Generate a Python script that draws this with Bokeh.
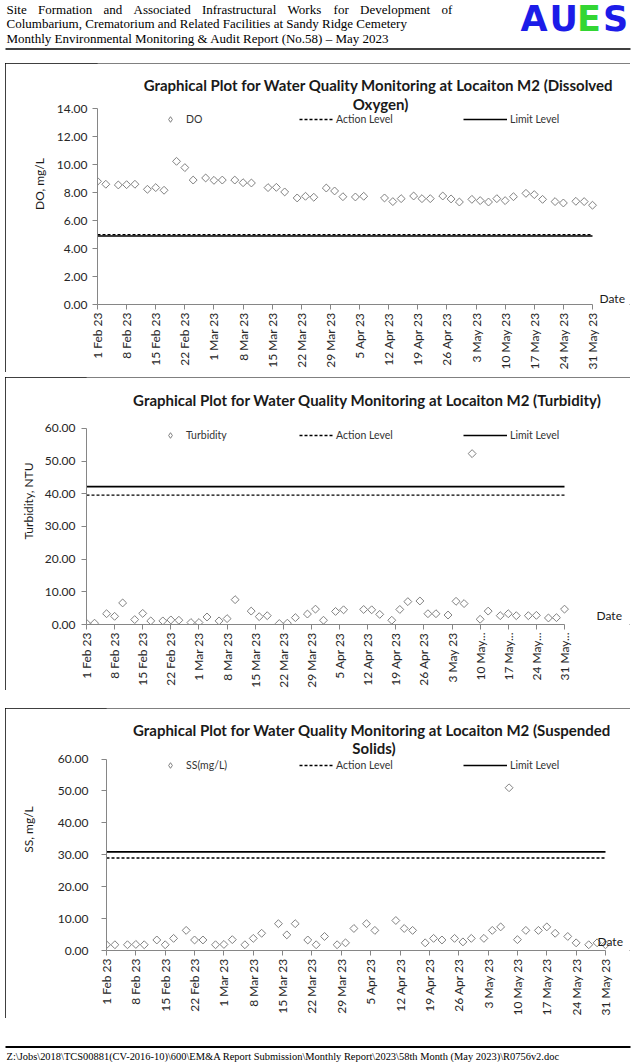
import math
import pandas as pd
from bokeh.plotting import figure
from bokeh.models import (Range1d, FixedTicker, Label, Legend, LegendItem, PrintfTickFormatter)
from bokeh.embed import file_html
from bokeh.resources import INLINE
from bokeh.core.properties import value

# ---------------- data ----------------
sample_dates = [
    "2023-02-01", "2023-02-03", "2023-02-06", "2023-02-08", "2023-02-10", "2023-02-13",
    "2023-02-15", "2023-02-17", "2023-02-20", "2023-02-22", "2023-02-24", "2023-02-27",
    "2023-03-01", "2023-03-03", "2023-03-06", "2023-03-08", "2023-03-10", "2023-03-14",
    "2023-03-16", "2023-03-18", "2023-03-21", "2023-03-23", "2023-03-25", "2023-03-28",
    "2023-03-30",
    "2023-04-01", "2023-04-04", "2023-04-06", "2023-04-11", "2023-04-13", "2023-04-15",
    "2023-04-18", "2023-04-20", "2023-04-22", "2023-04-25", "2023-04-27", "2023-04-29",
    "2023-05-02", "2023-05-04", "2023-05-06", "2023-05-08", "2023-05-10", "2023-05-12",
    "2023-05-15", "2023-05-17", "2023-05-19", "2023-05-22", "2023-05-24", "2023-05-27",
    "2023-05-29", "2023-05-31",
]

do_values = [
    8.81, 8.60, 8.55, 8.57, 8.60, 8.24, 8.36, 8.17, 10.24, 9.79, 8.90, 9.05,
    8.88, 8.90, 8.90, 8.71, 8.69, 8.36, 8.38, 8.05, 7.62, 7.74, 7.67, 8.33, 8.12,
    7.71, 7.69, 7.74, 7.62, 7.36, 7.57, 7.76, 7.57, 7.57, 7.76, 7.55, 7.33,
    7.52, 7.43, 7.33, 7.57, 7.43, 7.71, 7.95, 7.86, 7.52, 7.36, 7.26, 7.38, 7.36, 7.10,
]
turbidity_values = [
    0.4, 0.4, 3.3, 2.5, 6.6, 1.5, 3.4, 1.1, 1.1, 1.4, 1.3, 0.6,
    0.6, 2.3, 1.1, 1.8, 7.6, 4.1, 2.4, 2.7, 0.3, 0.4, 2.1, 3.2, 4.7,
    1.3, 4.0, 4.5, 4.6, 4.5, 3.1, 1.3, 4.6, 7.0, 7.2, 3.3, 3.3,
    2.9, 7.1, 6.4, 52.3, 1.6, 4.1, 2.7, 3.3, 2.7, 2.7, 2.8, 2.0, 2.1, 4.7,
]
ss_values = [
    1.8, 1.8, 1.8, 1.9, 1.8, 3.3, 1.8, 3.8, 6.3, 3.3, 3.3, 1.8,
    1.9, 3.4, 1.8, 3.8, 5.4, 8.4, 4.9, 8.4, 3.3, 1.8, 4.4, 1.8, 2.4,
    6.9, 8.4, 6.3, 9.4, 6.9, 6.3, 2.4, 3.8, 3.3, 3.8, 2.7, 3.8,
    3.8, 6.3, 7.4, 51.0, 3.4, 6.3, 6.3, 7.4, 5.4, 4.4, 2.4, 1.8, 2.4, 1.8,
]

do_action, do_limit = 5.0, 4.9
turb_action, turb_limit = 39.6, 42.2
ss_action, ss_limit = 29.0, 30.9

tick_dates = [
    "2023-02-01", "2023-02-08", "2023-02-15", "2023-02-22", "2023-03-01", "2023-03-08",
    "2023-03-15", "2023-03-22", "2023-03-29", "2023-04-05", "2023-04-12", "2023-04-19",
    "2023-04-26", "2023-05-03", "2023-05-10", "2023-05-17", "2023-05-24", "2023-05-31",
]
tick_labels = [
    "1 Feb 23", "8 Feb 23", "15 Feb 23", "22 Feb 23", "1 Mar 23", "8 Mar 23",
    "15 Mar 23", "22 Mar 23", "29 Mar 23", "5 Apr 23", "12 Apr 23", "19 Apr 23",
    "26 Apr 23", "3 May 23", "10 May 23", "17 May 23", "24 May 23", "31 May 23",
]
tick_labels_turbidity = [
    "1 Feb 23", "8 Feb 23", "15 Feb 23", "22 Feb 23", "1 Mar 23", "8 Mar 23",
    "15 Mar 23", "22 Mar 23", "29 Mar 23", "5 Apr 23", "12 Apr 23", "19 Apr 23",
    "26 Apr 23", "3 May 23", "10 May...", "17 May...", "24 May...", "31 May...",
]

header_line1 = ["Site", "Formation", "and", "Associated", "Infrastructural", "Works",
                "for", "Development", "of"]
header_line2 = "Columbarium, Crematorium and Related Facilities at Sandy Ridge Cemetery"
header_line3 = "Monthly Environmental Monitoring & Audit Report (No.58) \u2013 May 2023"
logo_letters = ["A", "U", "E", "S"]
footer_text = ("Z:\\Jobs\\2018\\TCS00881(CV-2016-10)\\600\\EM&A Report Submission\\"
               "Monthly Report\\2023\\58th Month (May 2023)\\R0756v2.doc")

# ---------------- helpers ----------------
CW = 625          # chart box width
PW = 632          # header / footer width
FONT = "Lato"
SERIF = "Liberation Serif"
start = pd.Timestamp("2023-02-01")
days = [(pd.Timestamp(d) - start).days for d in sample_dates]
tick_days = [(pd.Timestamp(d) - start).days for d in tick_dates]
XMAX = tick_days[-1]


def chart(h, fl, fr, ft, fb, ymax, ystep, vals, name, action, limit, ylab, tlabels,
          title_lines, ylab_sizes, date_xy, legend_row, margin_top):
    sx = (fr - fl) / XMAX          # px per day
    sy = (fb - ft) / ymax          # px per unit
    x_end = (CW - fl) / sx
    y_end = fb / sy
    p = figure(width=CW, height=h, output_backend="svg", toolbar_location=None,
               x_range=Range1d(0, x_end), y_range=Range1d(0, y_end),
               min_border_left=fl, min_border_right=0,
               min_border_top=0, min_border_bottom=h - fb)
    p.outline_line_color = None
    p.grid.visible = False
    p.background_fill_color = "white"
    p.border_fill_color = "white"
    p.styles = {"outline": "1px solid #000000", "outline-offset": "-1px",
                "margin-left": "5px", "margin-top": f"{margin_top}px"}

    def dx(px):
        return (px - fl) / sx

    def dy(py):
        return (fb - py) / sy

    n = len(days)
    p.scatter(days, vals, marker="square", angle=math.pi / 4, size=5.6,
              line_color="#808080", fill_color="white", line_width=1)
    r_act = p.line(days, [action] * n, line_color="black", line_dash="3 2", line_width=1.4)
    r_lim = p.line(days, [limit] * n, line_color="black", line_width=1.7)
    # legend key only (a single NaN point, nothing is drawn in the plot)
    r_key = p.scatter([float("nan")], [float("nan")], marker="diamond", line_color="#808080",
                      fill_color="white", line_width=1)

    xa = p.xaxis[0]
    ya = p.yaxis[0]
    xa.bounds = (0, XMAX)
    ya.bounds = (0, ymax)
    xa.ticker = FixedTicker(ticks=tick_days)
    xa.major_label_overrides = {d: l for d, l in zip(tick_days, tlabels)}
    xa.major_label_orientation = math.pi / 2
    xa.major_label_standoff = 3
    ya.ticker = FixedTicker(ticks=[ystep * i for i in range(int(round(ymax / ystep)) + 1)])
    ya.formatter = PrintfTickFormatter(format="%.2f")
    ya.major_label_standoff = ylab_sizes[0]
    ya.axis_label = ylab
    ya.axis_label_standoff = ylab_sizes[1]
    ya.axis_label_text_font = FONT
    ya.axis_label_text_font_size = "12px"
    ya.axis_label_text_font_style = "normal"
    ya.axis_label_text_color = "#1a1a1a"
    for ax in (xa, ya):
        ax.axis_line_color = "#868686"
        ax.major_tick_line_color = "#868686"
        ax.minor_tick_line_color = None
        ax.major_tick_out = 5
        ax.major_tick_in = 0
        ax.major_label_text_font = FONT
        ax.major_label_text_font_size = "12px"
        ax.major_label_text_color = "#262626"

    for (cx, cy, txt) in title_lines:
        p.add_layout(Label(x=dx(cx), y=dy(cy), text=txt, text_align="center",
                           text_baseline="middle", text_font=FONT,
                           text_font_size="15px", text_font_style="bold",
                           text_color="#1a1a1a"))
    p.add_layout(Label(x=dx(date_xy[0]), y=dy(date_xy[1]), text="Date", text_align="left",
                       text_baseline="middle", text_font=FONT,
                       text_font_size="12px", text_color="#1a1a1a"))

    # legends: (vx, vy) measured from the frame's bottom-left corner (box-local px)
    specs = [
        (r_key, name, 170 - 5 - 7 - fl, 14, 9),
        (r_act, "Action Level", 299 - 5 - fl, 34, 3),
        (r_lim, "Limit Level", 463 - 5 - fl, 44, 3),
    ]
    for rend, lab, vx, gw, so in specs:
        lg = Legend(items=[LegendItem(label=lab, renderers=[rend])],
                    location=(vx, fb - legend_row - 11),
                    orientation="horizontal", glyph_width=gw, glyph_height=14,
                    label_height=14, label_width=10, padding=0, margin=0, spacing=0,
                    border_line_color=None, background_fill_alpha=0,
                    label_text_font=FONT, label_text_font_size="10.5px",
                    label_standoff=so, label_text_color="#333333")
        p.add_layout(lg, "center")
    return p


# ---------------- header ----------------
hdr = figure(width=PW, height=63, output_backend="svg", toolbar_location=None,
             x_range=Range1d(0, PW), y_range=Range1d(63, 0), min_border=0,
             x_axis_location=None, y_axis_location=None)
hdr.grid.visible = False
hdr.outline_line_color = None
word_x = [6, 37.5, 103, 133.1, 201.4, 287.1, 333.1, 359.6, 440.9]
hdr.text(x=word_x, y=[8.5] * len(header_line1), text=header_line1,
         text_font=value(SERIF), text_font_size="13px", text_baseline="middle",
         text_align="left", text_color="black")
hdr.text(x=[6], y=[23], text=[header_line2], text_font=value(SERIF), text_font_size="13px",
         text_baseline="middle", text_align="left", text_color="black")
hdr.text(x=[6], y=[37.5], text=[header_line3], text_font=value(SERIF), text_font_size="13px",
         text_baseline="middle", text_align="left", text_color="black")
hdr.text(x=[520, 549, 576.5, 602.5], y=[18] * 4, text=logo_letters,
         text_color=["#1c1ce8", "#1c1ce8", "#33d633", "#1c1ce8"],
         text_font=value("DejaVu Sans"), text_font_size="35px", text_font_style="bold",
         text_baseline="middle", text_align="left")
hdr.segment(x0=[5], y0=[48.5], x1=[630], y1=[48.5], line_color="black", line_width=1.6)

# ---------------- chart 1: DO ----------------
p1 = chart(309, 92, 587, 46, 245, 14, 2, do_values, "DO", do_action, do_limit,
           "DO, mg/L", tick_labels,
           [(375, 22, "Graphical Plot for Water Quality Monitoring at Locaiton M2  (Dissolved"),
            (375, 41, "Oxygen)")],
           (5, 7), (594, 238.7), 56, 0)

# ---------------- chart 2: Turbidity ----------------
p2 = chart(313, 81, 559, 52, 252, 60, 10, turbidity_values, "Turbidity",
           turb_action, turb_limit, "Turbidity, NTU", tick_labels_turbidity,
           [(362, 23, "Graphical Plot for Water Quality Monitoring at Locaiton M2 (Turbidity)")],
           (6, 6), (591, 243), 59, 5)

# ---------------- chart 3: SS ----------------
p3 = chart(310, 101, 600, 52, 249, 60, 10, ss_values, "SS(mg/L)",
           ss_action, ss_limit, "SS, mg/L", tick_labels,
           [(368.5, 22, "Graphical Plot for Water Quality Monitoring at Locaiton M2  (Suspended"),
            (368.5, 41, "Solids)")],
           (13, 19), (592, 240), 60, 18)

# ---------------- footer ----------------
ftr = figure(width=PW, height=44, output_backend="svg", toolbar_location=None,
             x_range=Range1d(0, PW), y_range=Range1d(1062, 1018), min_border=0,
             x_axis_location=None, y_axis_location=None)
ftr.grid.visible = False
ftr.outline_line_color = None
ftr.segment(x0=[5], y0=[1046.5], x1=[630], y1=[1046.5], line_color="black", line_width=2)
ftr.text(x=[6], y=[1055.5], text=[footer_text], text_font=value(SERIF), text_font_size="10.45px",
         text_baseline="middle", text_align="left", text_color="black")

p = [hdr, p1, p2, p3, ftr]
open("out.html", "w").write(file_html(p, INLINE))
